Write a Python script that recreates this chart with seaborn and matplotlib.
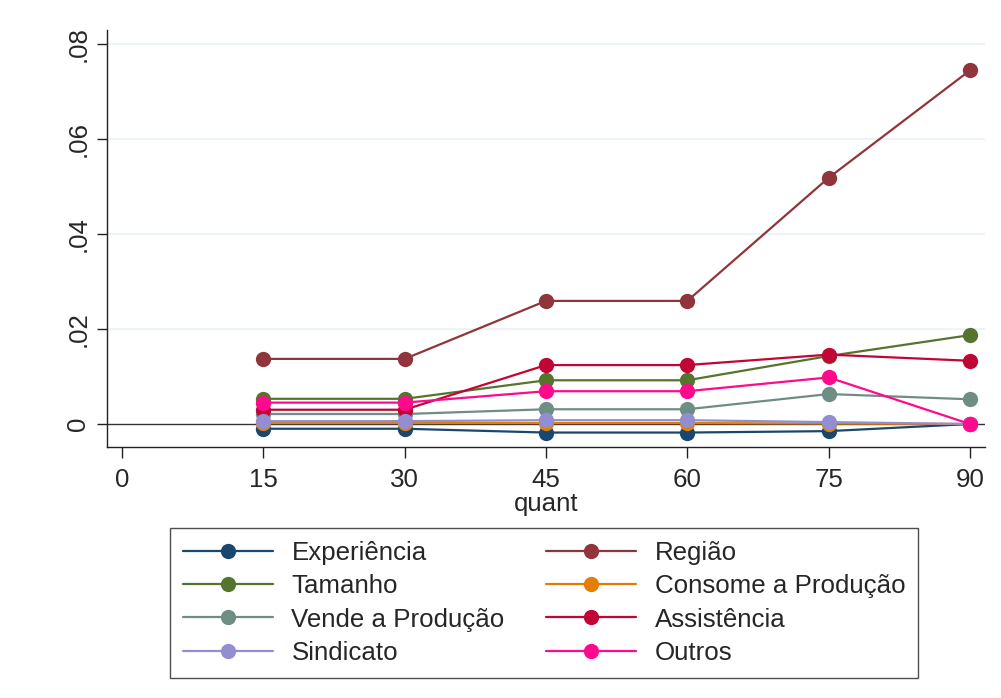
import numpy as np
import pandas as pd
import matplotlib
matplotlib.use("Agg")
import matplotlib.pyplot as plt
from matplotlib.lines import Line2D
import seaborn as sns

# quantile points on the x axis
quant = [15, 30, 45, 60, 75, 90]

# estimated effect per factor at each quantile
experiencia = [-0.0010, -0.0010, -0.0018, -0.0018, -0.0015, 0.0000]
regiao      = [0.0137, 0.0137, 0.0259, 0.0259, 0.0518, 0.0744]
tamanho     = [0.0053, 0.0053, 0.0092, 0.0092, 0.0143, 0.0187]
consome     = [0.0002, 0.0002, 0.0002, 0.0002, 0.0001, 0.0000]
vende       = [0.0021, 0.0021, 0.0031, 0.0031, 0.0063, 0.0052]
assistencia = [0.0030, 0.0030, 0.0124, 0.0124, 0.0146, 0.0133]
sindicato   = [0.0006, 0.0006, 0.0008, 0.0008, 0.0004, 0.0000]
outros      = [0.0045, 0.0045, 0.0069, 0.0069, 0.0098, 0.0000]

series_names = ["Experiência", "Região", "Tamanho", "Consome a Produção",
                "Vende a Produção", "Assistência", "Sindicato", "Outros"]
series_values = [experiencia, regiao, tamanho, consome,
                 vende, assistencia, sindicato, outros]
colors = ["#1a476f", "#90353b", "#55752f", "#e37e00",
          "#6e8e84", "#c10534", "#938dd2", "#ff0a8c"]

x_ticks = [0, 15, 30, 45, 60, 75, 90]
y_ticks = [0, 0.02, 0.04, 0.06, 0.08]
y_ticklabels = ["0", ".02", ".04", ".06", ".08"]

df = pd.DataFrame({
    "quant": np.tile(quant, len(series_names)),
    "coef": np.concatenate(series_values),
    "serie": np.repeat(series_names, len(quant)),
})

sns.set_style("white")
plt.rcParams["font.family"] = ["Liberation Sans", "DejaVu Sans"]
FS = 18.6

fig = plt.figure(figsize=(10.01, 6.98), dpi=100)
ax = fig.add_axes([0.1069, 0.3596, 0.984 - 0.1069, 0.957 - 0.3596])

for y in y_ticks[1:]:
    ax.axhline(y, color="#eaf2f3", lw=1.2, zorder=0)
ax.axhline(0, color="#333333", lw=1.0, zorder=1)

sns.lineplot(data=df, x="quant", y="coef", hue="serie",
             hue_order=series_names, palette=colors,
             marker="o", markersize=11, markeredgewidth=0,
             linewidth=1.6, legend=False, ax=ax, zorder=3)

ax.set_xlim(-1.6, 91.6)
ax.set_ylim(-0.00484, 0.0829)
ax.set_xticks(x_ticks)
ax.set_xticklabels([str(t) for t in x_ticks], fontsize=FS)
ax.set_yticks(y_ticks)
ax.set_yticklabels(y_ticklabels, fontsize=FS, rotation=90, va="center")
ax.set_xlabel("quant", fontsize=FS, labelpad=0)
ax.set_ylabel("")
ax.tick_params(axis="x", direction="out", length=8, width=1, color="#222222",
               bottom=True, pad=7)
ax.tick_params(axis="y", direction="out", length=7, width=1, color="#222222",
               left=True, pad=5)
for side in ["top", "right"]:
    ax.spines[side].set_visible(False)
for side in ["left", "bottom"]:
    ax.spines[side].set_color("#222222")
    ax.spines[side].set_linewidth(1.0)

handles = {name: Line2D([], [], color=c, lw=1.6, marker="o", markersize=11,
                        markeredgewidth=0)
           for name, c in zip(series_names, colors)}
order = ["Experiência", "Tamanho", "Vende a Produção", "Sindicato",
         "Região", "Consome a Produção", "Assistência", "Outros"]
leg = fig.legend([handles[n] for n in order], order, ncol=2,
                 loc="upper center", bbox_to_anchor=(0.5435, 1 - 528 / 698),
                 borderaxespad=0, fontsize=FS, frameon=True, fancybox=False,
                 edgecolor="#222222", handlelength=3.5, handletextpad=0.7,
                 columnspacing=1.6, labelspacing=0.36, borderpad=0.5)
leg.get_frame().set_linewidth(1.0)

fig.savefig("out.png", dpi=100, facecolor="white")
